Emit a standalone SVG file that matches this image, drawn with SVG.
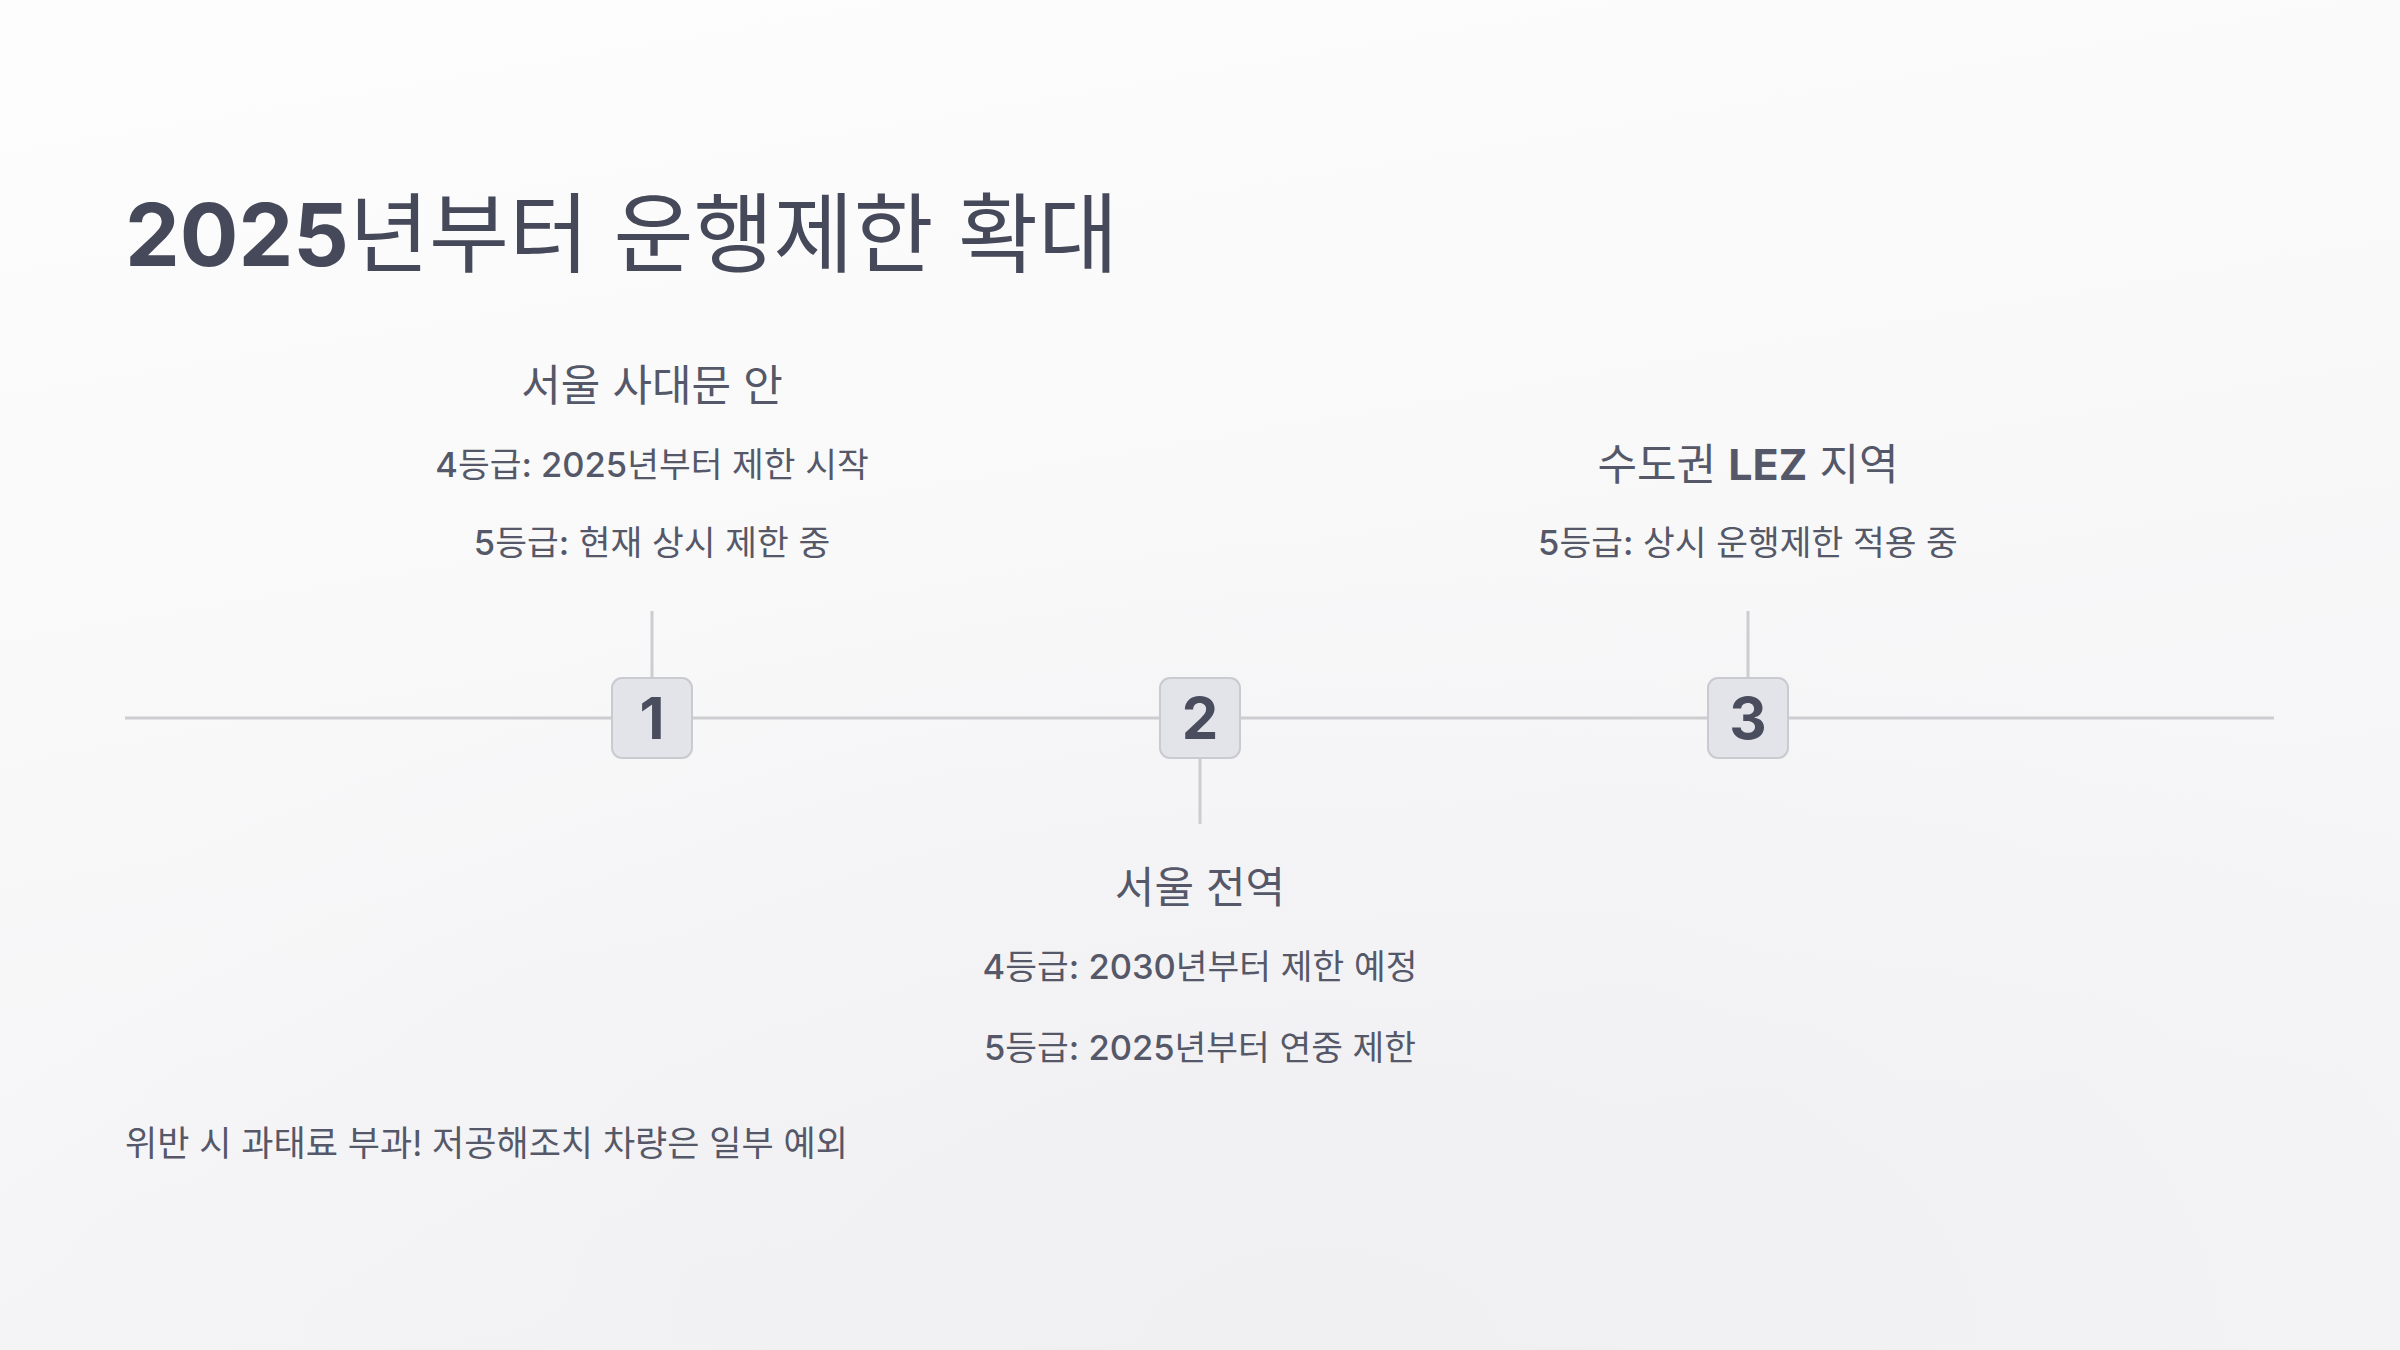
<svg xmlns="http://www.w3.org/2000/svg" width="2400" height="1350" viewBox="0 0 2400 1350">
  <defs>
    <linearGradient id="bg" x1="0" y1="0" x2="0.3" y2="1">
      <stop offset="0" stop-color="#fdfdfd"/>
      <stop offset="1" stop-color="#f4f4f6"/>
    </linearGradient>
    <radialGradient id="glow" cx="0.55" cy="1.0" r="0.6">
      <stop offset="0" stop-color="#efeff2" stop-opacity="0.9"/>
      <stop offset="1" stop-color="#efeff2" stop-opacity="0"/>
    </radialGradient>
    <style>
      text { font-family: "Inter", "Noto Sans CJK KR", "Noto Sans", sans-serif; }
      .title { font-size: 87px; fill: #464959; font-weight: 400; }
      .head { font-size: 43px; fill: #555868; font-weight: 400; text-anchor: middle; }
      .line { font-size: 34.5px; fill: #555868; font-weight: 400; text-anchor: middle; }
      .foot { font-size: 35px; fill: #555868; font-weight: 400; }
      .num { font-size: 58px; fill: #4a4d5d; font-weight: 700; text-anchor: middle; }
      .box { fill: #e3e4e9; stroke: #c9cbd1; stroke-width: 2; }
      .conn { stroke: #cdcdd1; stroke-width: 3; fill: none; }
      .med { font-weight: 500; }
    </style>
  </defs>
  <rect width="2400" height="1350" fill="url(#bg)"/>
  <rect width="2400" height="1350" fill="url(#glow)"/>

  <g id="title">
    <text class="title" x="125" y="266"><tspan font-weight="700">2025</tspan>년부터 운행제한 확대</text>
  </g>

  <g id="connectors">
    <line class="conn" x1="125" y1="718" x2="2274" y2="718"/>
    <line class="conn" x1="652" y1="611" x2="652" y2="678"/>
    <line class="conn" x1="1200" y1="758" x2="1200" y2="824"/>
    <line class="conn" x1="1748" y1="611" x2="1748" y2="678"/>
  </g>

  <g id="node1">
    <rect class="box" x="612" y="678" width="80" height="80" rx="10"/>
    <text class="num" x="652" y="739">1</text>
    <text class="head" x="652" y="401">서울 사대문 안</text>
    <text class="line" x="652" y="477"><tspan class="med">4</tspan>등급<tspan class="med">: 2025</tspan>년부터 제한 시작</text>
    <text class="line" x="652" y="555"><tspan class="med">5</tspan>등급<tspan class="med">:</tspan> 현재 상시 제한 중</text>
  </g>

  <g id="node2">
    <rect class="box" x="1160" y="678" width="80" height="80" rx="10"/>
    <text class="num" x="1200" y="739">2</text>
    <text class="head" x="1200" y="903">서울 전역</text>
    <text class="line" x="1200" y="979"><tspan class="med">4</tspan>등급<tspan class="med">: 2030</tspan>년부터 제한 예정</text>
    <text class="line" x="1200" y="1060"><tspan class="med">5</tspan>등급<tspan class="med">: 2025</tspan>년부터 연중 제한</text>
  </g>

  <g id="node3">
    <rect class="box" x="1708" y="678" width="80" height="80" rx="10"/>
    <text class="num" x="1748" y="739">3</text>
    <text class="head" x="1748" y="480">수도권 <tspan font-weight="700">LEZ</tspan> 지역</text>
    <text class="line" x="1748" y="555"><tspan class="med">5</tspan>등급<tspan class="med">:</tspan> 상시 운행제한 적용 중</text>
  </g>

  <g id="footer">
    <text class="foot" x="125" y="1156">위반 시 과태료 부과! 저공해조치 차량은 일부 예외</text>
  </g>
</svg>
